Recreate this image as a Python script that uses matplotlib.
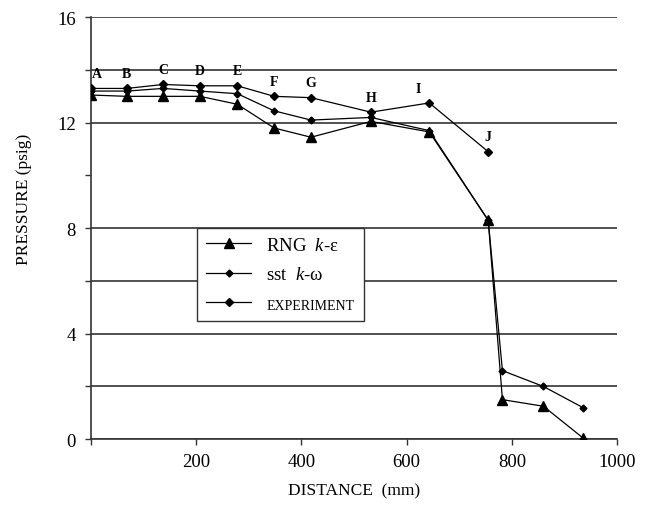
import matplotlib.pyplot as plt
import numpy as np

plt.rcParams['font.family'] = ['Liberation Serif', 'DejaVu Serif']
plt.rcParams['mathtext.fontset'] = 'custom'
plt.rcParams['mathtext.rm'] = 'Liberation Serif'
plt.rcParams['mathtext.it'] = 'Liberation Serif:italic'

# station positions (mm)
dist_exp = [0, 68, 137, 207, 278, 348, 418, 532, 643, 755]
dist_sim = [0, 68, 137, 207, 278, 348, 418, 532, 643, 755, 782, 860, 935]
station_labels = ["A", "B", "C", "D", "E", "F", "G", "H", "I", "J"]

# pressure (psig)
p_exp = [13.3, 13.3, 13.45, 13.4, 13.4, 13.0, 12.95, 12.4, 12.75, 10.9]
p_sst = [13.2, 13.2, 13.3, 13.2, 13.1, 12.45, 12.1, 12.2, 11.7, 8.3, 2.6, 2.0, 1.2]
p_rng = [13.05, 13.0, 13.0, 13.0, 12.7, 11.8, 11.45, 12.05, 11.65, 8.3, 1.5, 1.25, 0.05]

grid_levels = [0, 2, 4, 6, 8, 12, 14, 16]
xtick_vals = [200, 400, 600, 800, 1000]
ytick_vals = [0, 4, 8, 12, 16]

fig = plt.figure(figsize=(6.6, 5.06), dpi=100)
ax = fig.add_axes([0.138, 0.130, 0.797, 0.834])

for g in grid_levels:
    ax.axhline(g, color='#333333', lw=1.2, zorder=1)

ax.plot(dist_sim, p_rng, color='black', lw=0.9, marker='^', ms=6.5,
        label=r'RNG  $k$-ε', zorder=3)
ax.plot(dist_sim, p_sst, color='black', lw=0.9, marker='D', ms=3.5,
        label=r'sst  $k$-ω', zorder=3)
ax.plot(dist_exp, p_exp, color='black', lw=0.9, marker='D', ms=4.5,
        label='EXPERIMENT', zorder=3)

for lab, xv, yv in zip(station_labels, dist_exp, p_exp):
    dx = 4 if lab == "A" else (-8 if lab == "I" else 0)
    ax.annotate(lab, (xv, yv), xytext=(dx, 6), textcoords='offset points',
                ha='center', va='bottom', fontsize=10, fontweight='bold',
                zorder=4)

ax.set_xlim(0, 1000)
ax.set_ylim(0, 16)
ax.set_xticks([0] + xtick_vals)
ax.set_xticklabels([''] + [str(v) for v in xtick_vals])
ax.set_yticks(ytick_vals)
ax.set_yticks([2, 6, 10, 14], minor=True)
ax.tick_params(axis='both', which='both', direction='out', length=4,
               width=1, labelsize=13.5, color='#333333')
ax.tick_params(axis='y', which='minor', labelleft=False)
ax.tick_params(axis='y', pad=7)
ax.tick_params(axis='x', pad=6)

for side in ['top', 'right']:
    ax.spines[side].set_visible(False)
for side in ['left', 'bottom']:
    ax.spines[side].set_color('#333333')
    ax.spines[side].set_linewidth(1.2)

ax.set_xlabel('DISTANCE  (mm)', fontsize=12.5, labelpad=9)
ax.set_ylabel('PRESSURE (psig)', fontsize=12.5)
ax.yaxis.set_label_coords(-0.113, 0.57)

leg = ax.legend(loc='lower left', bbox_to_anchor=(0.2015, 0.28),
                borderaxespad=0, fancybox=False,
                framealpha=1, edgecolor='#333333', handlelength=2.4,
                borderpad=0.5, labelspacing=0.65, fontsize=13.5)
leg.get_frame().set_linewidth(1.0)
leg.get_texts()[2].set_fontsize(10)
leg.set_zorder(5)

fig.savefig('out.png', dpi=100)
